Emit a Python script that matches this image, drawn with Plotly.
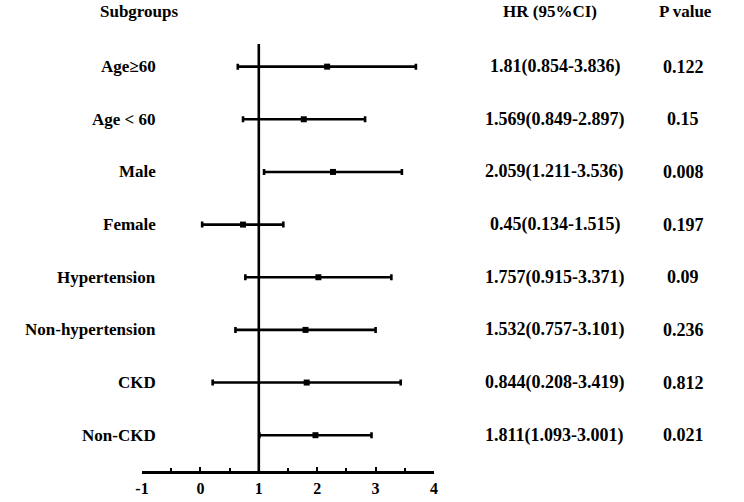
import plotly.graph_objects as go

subgroups = ["Age≥60", "Age < 60", "Male", "Female", "Hypertension",
             "Non-hypertension", "CKD", "Non-CKD"]
point = [2.17, 1.77, 2.27, 0.73, 2.02, 1.80, 1.82, 1.97]
low = [0.64, 0.73, 1.09, 0.03, 0.77, 0.60, 0.21, 1.01]
high = [3.69, 2.82, 3.45, 1.42, 3.27, 3.00, 3.43, 2.93]
hr_ci = ["1.81(0.854-3.836)", "1.569(0.849-2.897)", "2.059(1.211-3.536)",
         "0.45(0.134-1.515)", "1.757(0.915-3.371)", "1.532(0.757-3.101)",
         "0.844(0.208-3.419)", "1.811(1.093-3.001)"]
p_values = ["0.122", "0.15", "0.008", "0.197", "0.09", "0.236", "0.812", "0.021"]
x_ticks = [-1, 0, 1, 2, 3, 4]

n = len(subgroups)
ypos = [n - i for i in range(n)]

FONT = "Liberation Serif"

fig = go.Figure()
fig.add_trace(go.Scatter(
    x=point, y=ypos, mode="markers",
    marker=dict(symbol="square", size=6, color="black"),
    error_x=dict(type="data", symmetric=False,
                 array=[h - p for h, p in zip(high, point)],
                 arrayminus=[p - l for p, l in zip(point, low)],
                 color="black", thickness=2.6, width=3),
    showlegend=False, hoverinfo="skip",
))

fig.add_shape(type="line", xref="x", yref="paper", x0=1, x1=1, y0=0, y1=1,
              line=dict(color="black", width=2.6), layer="below")

for y, lab, hr, p in zip(ypos, subgroups, hr_ci, p_values):
    fig.add_annotation(x=0.054, xref="paper", y=y, yref="y", text=lab,
                       showarrow=False, xanchor="right", yanchor="middle",
                       font=dict(family=FONT, size=17, color="black", weight="bold"))
    fig.add_annotation(x=1.414, xref="paper", y=y, yref="y", text=hr,
                       showarrow=False, xanchor="center", yanchor="middle",
                       font=dict(family=FONT, size=18, color="black", weight="bold"))
    fig.add_annotation(x=1.853, xref="paper", y=y, yref="y", text=p,
                       showarrow=False, xanchor="center", yanchor="middle",
                       font=dict(family=FONT, size=18, color="black", weight="bold"))

headers = [("Subgroups", -0.149, "left"), ("HR (95%CI)", 1.397, "center"),
           ("P value", 1.86, "center")]
for txt, xp, anc in headers:
    fig.add_annotation(x=xp, xref="paper", y=1.075, yref="paper", text=txt,
                       showarrow=False, xanchor=anc, yanchor="middle",
                       font=dict(family=FONT, size=17, color="black", weight="bold"))

fig.update_layout(
    width=744, height=502,
    margin=dict(l=142, r=310, t=44, b=31),
    paper_bgcolor="white", plot_bgcolor="white",
    xaxis=dict(range=[-1, 4], tickvals=x_ticks, ticktext=[str(t) for t in x_ticks],
               showline=True, linecolor="black", linewidth=2.6,
               ticks="inside", ticklen=4, tickwidth=2.4, tickcolor="black",
               minor=dict(tickvals=[-0.5, 0.5, 1.5, 2.5, 3.5], ticks="inside",
                          ticklen=3, tickwidth=2, tickcolor="black"),
               ticklabelstandoff=1, automargin=False,
               showgrid=False, zeroline=False,
               tickfont=dict(family=FONT, size=16, color="black", weight="bold")),
    yaxis=dict(range=[0.32, 8.43], visible=False, showgrid=False, zeroline=False,
               automargin=False),
)

fig.write_html("out.html",
               config={"displayModeBar": False},
               post_script="document.body.style.margin='0';document.body.style.overflow='hidden';")
